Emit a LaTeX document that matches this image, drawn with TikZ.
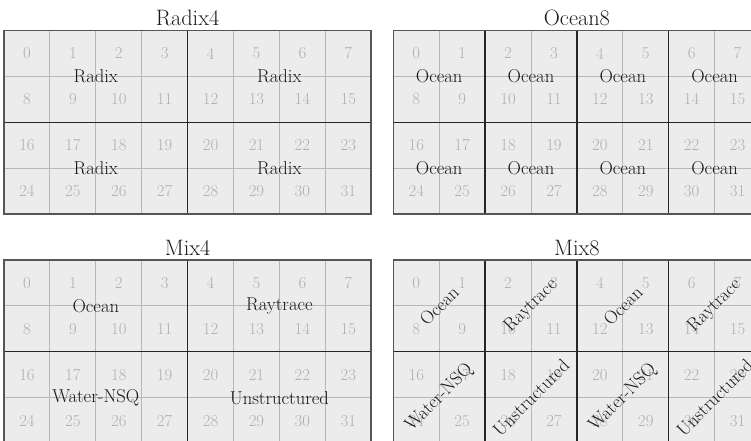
\documentclass[tikz,border=0pt]{standalone}
\definecolor{cellfill}{HTML}{EBECEB}
\definecolor{gridgray}{HTML}{B8B8B8}
\definecolor{numgray}{HTML}{B0B0B0}
\definecolor{sepdark}{HTML}{262626}
\definecolor{framegray}{HTML}{555555}
\definecolor{txtdark}{HTML}{1A1A1A}
\def\s{45.9}
\newcommand\drawgrid[4]{%
  \fill[cellfill] (#2,#3) rectangle ++(8*\s,4*\s);
  \foreach \i in {1,...,7} \draw[gridline] (#2+\i*\s,#3) -- ++(0,4*\s);
  \foreach \j in {1,2,3} \draw[gridline] (#2,#3+\j*\s) -- ++(8*\s,0);
  \foreach \r in {0,...,3} {\foreach \c in {0,...,7} {%
    \pgfmathtruncatemacro\n{\r*8+\c}%
    \node[num] (#1-\n) at (#2+\c*\s+0.5*\s,#3+\r*\s+0.5*\s) {\n};}}
  \foreach \i in {#4} \draw[sepline] (#2+\i*\s,#3) -- ++(0,4*\s);
  \draw[sepline] (#2,#3+2*\s) -- ++(8*\s,0);
  \draw[frameline] (#2,#3) rectangle ++(8*\s,4*\s);
}
\begin{document}
\begin{tikzpicture}[x=1pt,y=-1pt,
  gridline/.style={draw=gridgray,line width=0.9pt},
  sepline/.style={draw=sepdark,line width=1.3pt},
  frameline/.style={draw=framegray,line width=1.5pt},
  num/.style={text=numgray,font=\fontsize{16.7}{20}\selectfont,inner sep=0pt},
  lbl/.style={text=txtdark,font=\fontsize{18.6}{22}\selectfont,inner sep=0pt},
  ttl/.style={text=txtdark,font=\fontsize{22.3}{26}\selectfont,inner sep=0pt,anchor=base}]
\useasboundingbox (0,0) rectangle (751,440);
\clip (0,0) rectangle (751,440);
% Radix4
\drawgrid{ra}{4}{30.5}{4}
\node[ttl] (tra) at (4+4*\s,25) {Radix4};
\node[lbl] (ra-l1) at (4+2*\s,30.5+\s) {Radix};
\node[lbl] (ra-l2) at (4+6*\s,30.5+\s) {Radix};
\node[lbl] (ra-l3) at (4+2*\s,30.5+3*\s) {Radix};
\node[lbl] (ra-l4) at (4+6*\s,30.5+3*\s) {Radix};
% Ocean8
\drawgrid{oc}{393.3}{30.5}{2,4,6}
\node[ttl] (toc) at (393.3+4*\s,25) {Ocean8};
\foreach \k in {0,...,3} {
  \node[lbl] (oc-t\k) at (393.3+\s+2*\k*\s,30.5+\s) {Ocean};
  \node[lbl] (oc-b\k) at (393.3+\s+2*\k*\s,30.5+3*\s) {Ocean};
}
% Mix4
\drawgrid{ma}{4}{260}{4}
\node[ttl] (tma) at (4+4*\s,255) {Mix4};
\node[lbl] (ma-l1) at (4+2*\s,260+\s) {Ocean};
\node[lbl] (ma-l2) at (4+6*\s,260+\s) {Raytrace};
\node[lbl] (ma-l3) at (4+2*\s,260+3*\s) {Water-NSQ};
\node[lbl] (ma-l4) at (4+6*\s,260+3*\s) {Unstructured};
% Mix8
\drawgrid{mb}{393.3}{260}{2,4,6}
\node[ttl] (tmb) at (393.3+4*\s,255) {Mix8};
\foreach \k/\a/\b in {0/Ocean/Water-NSQ,1/Raytrace/Unstructured,2/Ocean/Water-NSQ,3/Raytrace/Unstructured} {
  \node[lbl,rotate=45] (mb-t\k) at (393.3+\s+2*\k*\s,260+\s) {\a};
  \node[lbl,rotate=45] (mb-b\k) at (393.3+\s+2*\k*\s,260+3*\s) {\b};
}
\end{tikzpicture}
\end{document}
